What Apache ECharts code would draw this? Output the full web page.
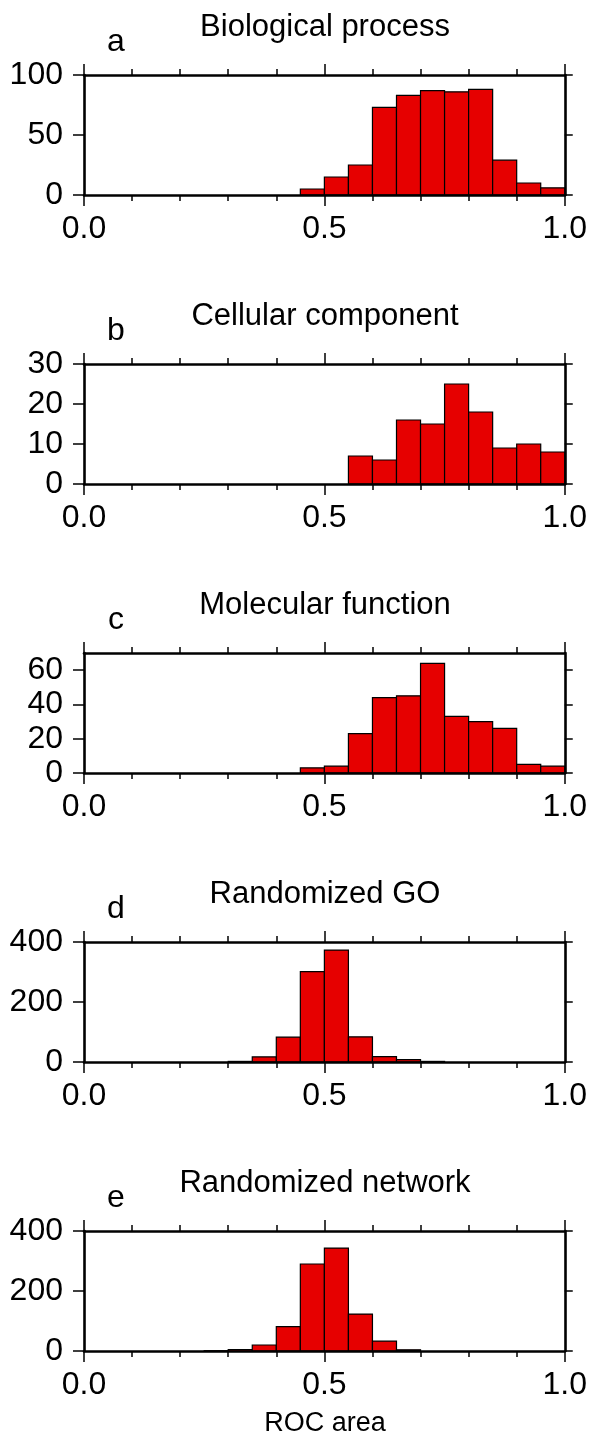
<!DOCTYPE html>
<html>
<head>
<meta charset="utf-8">
<script src="https://cdn.jsdelivr.net/npm/echarts@6/dist/echarts.min.js"></script>
<style>
html,body{margin:0;padding:0;background:#fff;}
#chart{width:590px;height:1437px;}
</style>
</head>
<body>
<div id="chart"></div>
<script>
// ---- data ----
var binStarts = [0.00,0.05,0.10,0.15,0.20,0.25,0.30,0.35,0.40,0.45,0.50,0.55,0.60,0.65,0.70,0.75,0.80,0.85,0.90,0.95];
var binWidth = 0.05;
var panelTitles = ['Biological process','Cellular component','Molecular function','Randomized GO','Randomized network'];
var panelLetters = ['a','b','c','d','e'];
var countsBio     = [0,0,0,0,0,0,0,0,0,5,15,25,73,83,87,86,88,29,10,6];
var countsCell    = [0,0,0,0,0,0,0,0,0,0,0,7,6,16,15,25,18,9,10,8];
var countsMol     = [0,0,0,0,0,0,0,0,0,3,4,23,44,45,64,33,30,26,5,4];
var countsRandGO  = [0,0,0,0,0,0,2,17,83,301,373,84,18,8,2,0,0,0,0,0];
var countsRandNet = [0,0,0,0,0,1,5,20,81,290,343,123,33,4,0,0,0,0,0,0];
var yMax = [100,30,70,400,400];
var yTicks = [[0,50,100],[0,10,20,30],[0,20,40,60],[0,200,400],[0,200,400]];
var xTickLabels = [0.0,0.5,1.0];
var xAxisName = 'ROC area';

// ---- layout ----
var allCounts = [countsBio,countsCell,countsMol,countsRandGO,countsRandNet];
var FONT = '"Liberation Sans", Arial, Helvetica, sans-serif';
var gridLeft = 84, gridWidth = 482, gridHeight = 120;
var gridTops = [75, 364, 653, 942, 1231];
var FS = 32, TFS = 31;

var chart = echarts.init(document.getElementById('chart'), null, {renderer:'canvas'});

var grids=[], xAxes=[], yAxes=[], series=[], graphics=[];
var lineStyle = {color:'#000', width:2.6};
for (var i=0;i<5;i++){
  grids.push({left:gridLeft, top:gridTops[i], width:gridWidth, height:gridHeight, containLabel:false});
  xAxes.push({type:'value', gridIndex:i, position:'bottom', min:0, max:1, interval:0.5,
    axisLine:{show:true, onZero:false, lineStyle:lineStyle},
    axisTick:{show:true, length:11, lineStyle:{color:'#000', width:1.5}},
    minorTick:{show:true, splitNumber:5, length:6, lineStyle:{color:'#000', width:1.5}},
    splitLine:{show:false},
    axisLabel:{show:true, margin:18, color:'#000', fontSize:FS, fontFamily:FONT,
      customValues: xTickLabels,
      formatter:function(v){return Number(v).toFixed(1);}},
    z:5
  });
  xAxes.push({type:'value', gridIndex:i, position:'top', min:0, max:1, interval:0.5,
    axisLine:{show:true, onZero:false, lineStyle:lineStyle},
    axisTick:{show:true, length:11, lineStyle:{color:'#000', width:1.5}},
    minorTick:{show:true, splitNumber:5, length:6, lineStyle:{color:'#000', width:1.5}},
    splitLine:{show:false},
    axisLabel:{show:false},
    z:5
  });
  yAxes.push({type:'value', gridIndex:i, position:'left', min:0, max:yMax[i],
    axisLine:{show:true, onZero:false, lineStyle:lineStyle},
    axisTick:{show:true, length:11, customValues:yTicks[i], lineStyle:{color:'#000', width:1.5}},
    splitLine:{show:false},
    axisLabel:{show:true, margin:21, color:'#000', fontSize:FS, fontFamily:FONT, customValues:yTicks[i]},
    z:5
  });
  yAxes.push({type:'value', gridIndex:i, position:'right', min:0, max:yMax[i],
    axisLine:{show:true, onZero:false, lineStyle:lineStyle},
    axisTick:{show:true, length:8, customValues:yTicks[i], lineStyle:{color:'#000', width:1.5}},
    splitLine:{show:false},
    axisLabel:{show:false},
    z:5
  });
  var data = [];
  for (var k=0;k<binStarts.length;k++){
    if (allCounts[i][k] > 0) data.push([binStarts[k], binStarts[k]+binWidth, allCounts[i][k]]);
  }
  series.push({
    type:'custom', xAxisIndex:2*i, yAxisIndex:2*i, data:data, silent:true, z:2,
    renderItem:function(params, api){
      var p0 = api.coord([api.value(0), api.value(2)]);
      var p1 = api.coord([api.value(1), 0]);
      return {type:'rect', shape:{x:p0[0], y:p0[1], width:p1[0]-p0[0], height:p1[1]-p0[1]},
        style:{fill:'#e60000', stroke:'#000', lineWidth:1.2}};
    }
  });
  graphics.push({type:'text', style:{text:panelTitles[i], font:TFS+'px '+FONT, fill:'#000', textAlign:'center', textVerticalAlign:'middle'}, position:[gridLeft+gridWidth/2, gridTops[i]-48]});
  graphics.push({type:'text', style:{text:panelLetters[i], font:FS+'px '+FONT, fill:'#000', textAlign:'center', textVerticalAlign:'middle'}, position:[116, gridTops[i]-33]});
}
graphics.push({type:'text', style:{text:xAxisName, font:'27px '+FONT, fill:'#000', textAlign:'center', textVerticalAlign:'middle'}, position:[gridLeft+gridWidth/2, 1424]});

chart.setOption({
  animation:false,
  backgroundColor:'#fff',
  grid:grids, xAxis:xAxes, yAxis:yAxes, series:series,
  graphic:{elements:graphics}
});
</script>
</body>
</html>
